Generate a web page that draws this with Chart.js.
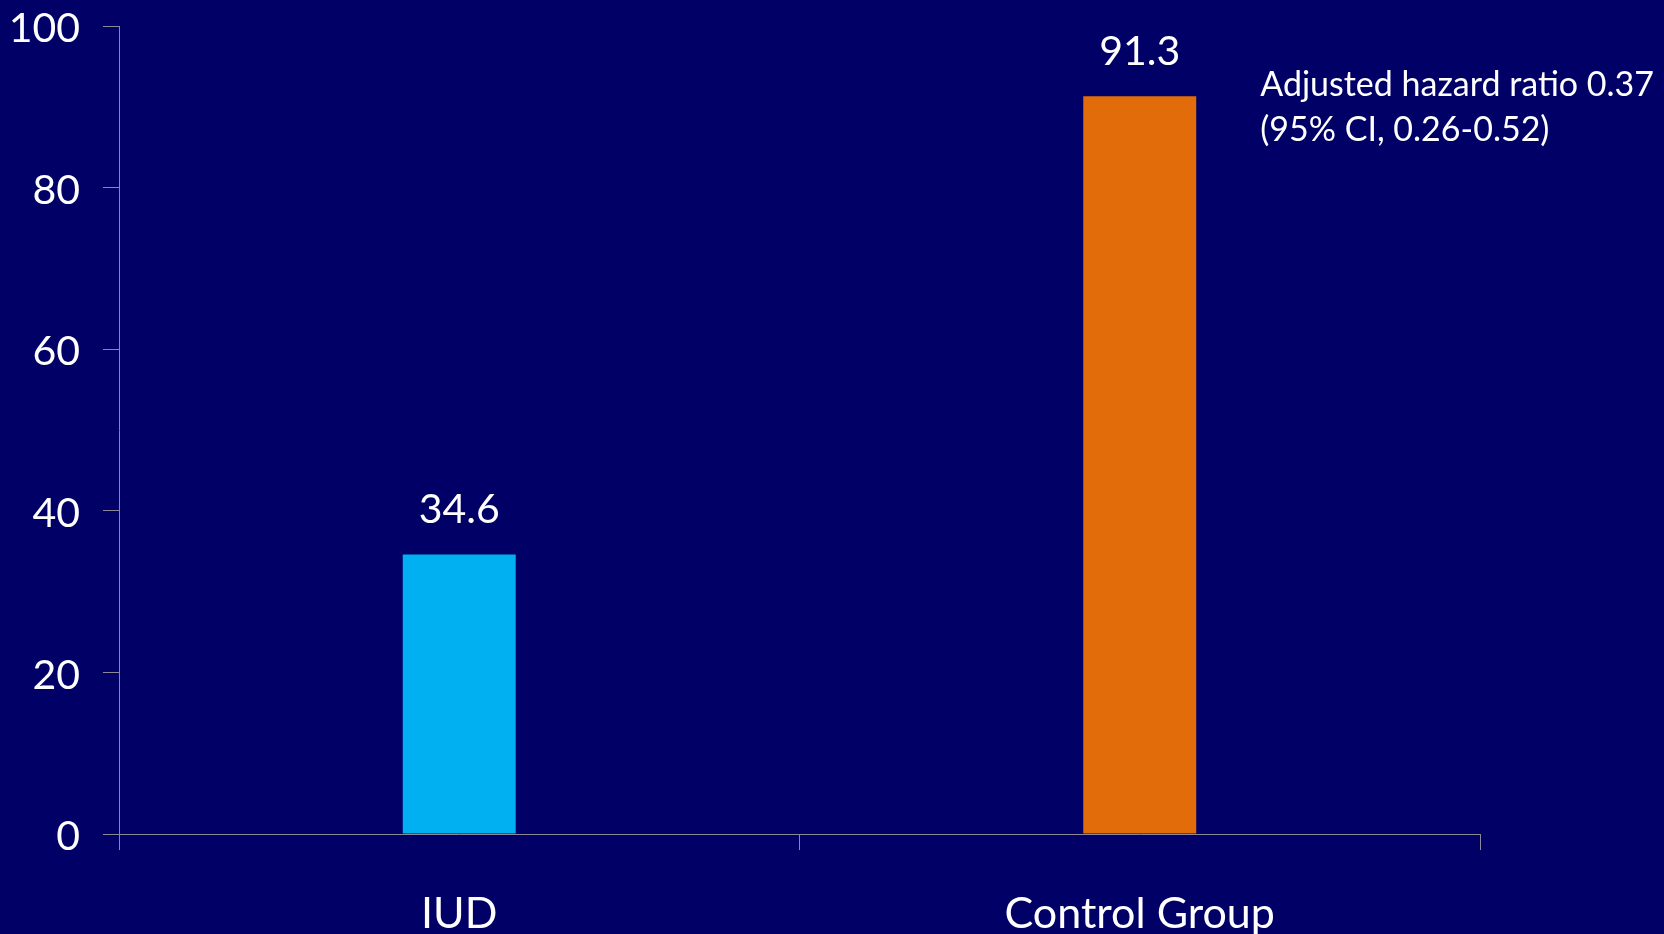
<!DOCTYPE html>
<html>
<head>
<meta charset="utf-8">
<script src="https://cdn.jsdelivr.net/npm/chart.js@4.4.1/dist/chart.umd.min.js"></script>
<style>
  html, body { margin: 0; padding: 0; background: #000066; overflow: hidden; }
  #wrap { width: 1664px; height: 934px; }
</style>
</head>
<body>
<div id="wrap"><canvas id="chart"></canvas></div>
<script>
// chart data
var categories = ['IUD', 'Control Group'];
var values = [34.6, 91.3];
var barColors = ['#00B0F0', '#E36C0A'];
var yTicks = [0, 20, 40, 60, 80, 100];
var noteLines = ['Adjusted hazard ratio 0.37', '(95% CI, 0.26-0.52)'];

var axisGrey = '#8a8a99';
var fontName = 'Lato, "Open Sans", sans-serif';

// value labels above bars + hazard ratio note
var labelPlugin = {
    id: 'barLabels',
    afterDatasetsDraw: function(chart) {
        var ctx = chart.ctx;
        var bars = chart.getDatasetMeta(0).data;
        ctx.save();
        ctx.fillStyle = '#ffffff';
        ctx.textAlign = 'center';
        ctx.textBaseline = 'alphabetic';
        ctx.font = '41px ' + fontName;
        bars.forEach(function(bar, i) {
            ctx.fillText(values[i].toFixed(1), bar.x, bar.y - 31);
        });

        // note to the right of the control bar
        var last = bars[bars.length - 1];
        var noteX = last.x + last.width / 2 + 64;
        var top = chart.chartArea.top;
        ctx.textAlign = 'left';
        ctx.font = '34px ' + fontName;
        ctx.fillText(noteLines[0], noteX, top + 70);
        ctx.fillText(noteLines[1], noteX, top + 115);
        ctx.restore();
    }
};

function drawGraph() {
    var ctx = document.getElementById('chart');
    return new Chart(ctx, {
        type: 'bar',
        data: {
            labels: categories,
            datasets: [{
                data: values,
                backgroundColor: barColors,
                borderWidth: 0,
                categoryPercentage: 1,
                barPercentage: 0.166
            }]
        },
        options: {
            responsive: true,
            maintainAspectRatio: false,
            animation: false,
            layout: { padding: { left: 0, right: 184, top: 26, bottom: 0 } },
            plugins: {
                legend: { display: false },
                tooltip: { enabled: false }
            },
            scales: {
                x: {
                    grid: {
                        display: true,
                        drawOnChartArea: false,
                        drawTicks: true,
                        tickLength: 16,
                        color: axisGrey,
                        offset: true
                    },
                    border: { display: true, color: axisGrey, width: 1 },
                    ticks: {
                        color: '#ffffff',
                        font: { family: fontName, size: 43 },
                        padding: 38,
                        maxRotation: 0
                    },
                    afterFit: function(scale) { scale.height = 100; }
                },
                y: {
                    min: 0,
                    max: 100,
                    afterBuildTicks: function(scale) {
                        scale.ticks = yTicks.map(function(v) { return { value: v }; });
                    },
                    grid: {
                        display: true,
                        drawOnChartArea: false,
                        drawTicks: true,
                        tickLength: 16,
                        color: axisGrey
                    },
                    border: { display: true, color: axisGrey, width: 1 },
                    ticks: {
                        color: '#ffffff',
                        font: { family: fontName, size: 41 },
                        padding: 23,
                        labelOffset: 3
                    },
                    afterFit: function(scale) {
                        scale.width = 119;
                        scale.paddingTop = 0;
                        scale.paddingBottom = 0;
                    }
                }
            }
        },
        plugins: [labelPlugin]
    });
}

drawGraph();
</script>
</body>
</html>
